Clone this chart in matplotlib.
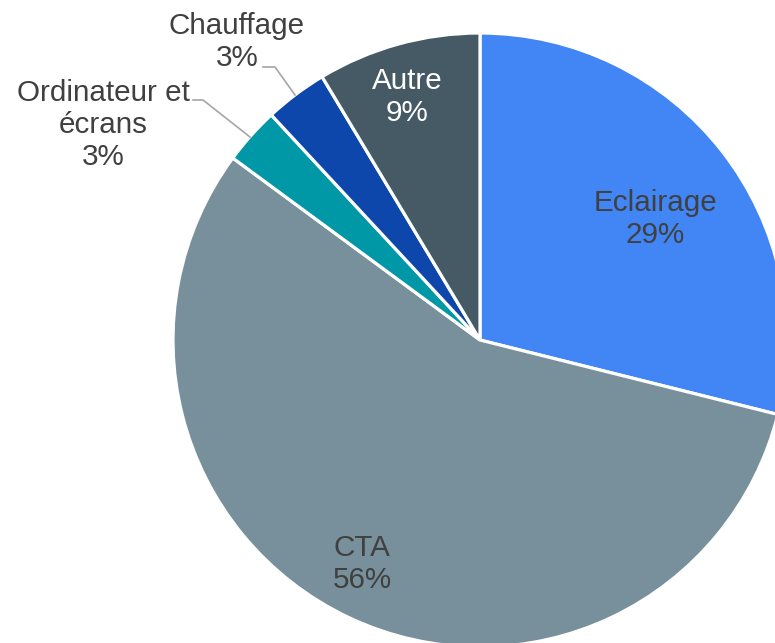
import matplotlib.pyplot as plt

plt.rcParams['font.family'] = ['Liberation Sans', 'DejaVu Sans']

# slices, clockwise from the top
labels = ["Eclairage", "CTA", "Ordinateur et\nécrans", "Chauffage", "Autre"]
shares = [28.9, 56.2, 3.0, 3.3, 8.6]
pct_text = ["29%", "56%", "3%", "3%", "9%"]
colors = ["#4285F4", "#78909C", "#0097A7", "#0D47AB", "#455A64"]

W, H = 775, 643
fig = plt.figure(figsize=(W / 100, H / 100), dpi=100)
ax = fig.add_axes([0, 0, 1, 1])


def Y(py):
    # image row (from top) -> data y
    return H - py


# work in pixel coordinates of the 775x643 image
cx, cy, r = 480, Y(340), 307
ax.pie(shares, colors=colors, startangle=90, counterclock=False,
       center=(cx, cy), radius=r, frame=True,
       wedgeprops=dict(edgecolor="white", linewidth=2.3))
ax.set_xlim(0, W)
ax.set_ylim(0, H)
ax.set_aspect("equal")
ax.axis("off")

fs = 21.3
ls = 1.2
grey = "#404040"
# inside labels
ax.text(655, Y(219), f"{labels[0]}\n{pct_text[0]}", ha="center", va="center",
        fontsize=fs, color=grey, linespacing=ls)
ax.text(362, Y(564), f"{labels[1]}\n{pct_text[1]}", ha="center", va="center",
        fontsize=fs, color=grey, linespacing=ls)
ax.text(407, Y(97), f"{labels[4]}\n{pct_text[4]}", ha="center", va="center",
        fontsize=fs, color="white", linespacing=ls)

# outside labels with leader lines
ax.text(237, Y(42), f"{labels[3]}\n{pct_text[3]}", ha="center", va="center",
        fontsize=fs, color=grey, linespacing=ls)
ax.plot([263, 275, 295], [Y(67), Y(67), Y(95)], color="#A6A6A6", lw=1.2)

ax.text(103, Y(125), f"{labels[2]}\n{pct_text[2]}", ha="center", va="center",
        fontsize=fs, color=grey, linespacing=ls)
ax.plot([193, 203, 250], [Y(100), Y(100), Y(137)], color="#A6A6A6", lw=1.2)

fig.savefig("out.png", dpi=100)
